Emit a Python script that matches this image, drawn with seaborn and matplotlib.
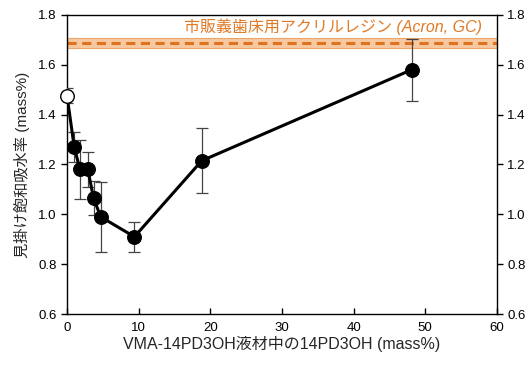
import matplotlib
matplotlib.use("Agg")
import matplotlib.pyplot as plt
import seaborn as sns
import pandas as pd

# 14PD3OH content in the liquid (mass%) and apparent saturated water absorption (mass%)
conc = [0.0, 1.0, 1.8, 2.9, 3.7, 4.7, 9.4, 18.8, 48.1]
absorption = [1.475, 1.27, 1.18, 1.18, 1.065, 0.99, 0.91, 1.215, 1.58]
err = [0.03, 0.06, 0.12, 0.07, 0.067, 0.14, 0.06, 0.13, 0.125]

# Commercial denture base acrylic resin reference
ref_mean = 1.687
ref_sd = 0.019
ref_label = "市販義歯床用アクリルレジン (Acron, GC)"

x_ticks = [0, 10, 20, 30, 40, 50, 60]
y_ticks = [0.6, 0.8, 1.0, 1.2, 1.4, 1.6, 1.8]

sns.set_theme(style="white")
plt.rcParams["font.family"] = ["Liberation Sans", "Noto Sans CJK JP", "DejaVu Sans"]
mixed = ["Liberation Sans", "Noto Sans CJK JP", "DejaVu Sans"]

df = pd.DataFrame({"conc": conc, "absorption": absorption, "err": err})

fig = plt.figure(figsize=(5.28, 3.73), dpi=100)
ax = fig.add_axes([0.127, 0.158, 0.814, 0.802])

# reference band and dashed mean line
ax.axhspan(ref_mean - ref_sd, ref_mean + ref_sd, color="#f7c9a2", lw=0.8,
           ec="#eba56a", zorder=1)
ax.axhline(ref_mean, color="#e2711d", lw=2.2, ls=(0, (3, 1.8)), zorder=2)
ax.text(37.1, 1.752, ref_label, color="#e07a26", fontsize=11.5, style="italic",
        ha="center", va="center", family=mixed)

# error bars
ax.errorbar(df["conc"], df["absorption"], yerr=df["err"], fmt="none",
            ecolor="#444444", elinewidth=0.9, capsize=4, capthick=0.9, zorder=3)

# connecting line
sns.lineplot(data=df, x="conc", y="absorption", ax=ax, color="black", lw=2.2,
             sort=False, zorder=4)

# data points: open circle for the unmodified liquid, filled for the rest
sns.scatterplot(data=df.iloc[1:], x="conc", y="absorption", ax=ax, color="black",
                s=95, edgecolor="black", linewidth=1, zorder=5)
sns.scatterplot(data=df.iloc[:1], x="conc", y="absorption", ax=ax, color="white",
                s=95, edgecolor="black", linewidth=1, zorder=6, clip_on=False)

ax.set_xlim(0, 60)
ax.set_ylim(0.6, 1.8)
ax.set_xticks(x_ticks)
ax.set_yticks(y_ticks)
ax.set_yticklabels([f"{v:.1f}" for v in y_ticks])

for s in ax.spines.values():
    s.set_visible(True)
    s.set_color("black")
    s.set_linewidth(1.0)

ax.tick_params(axis="x", direction="in", length=4, width=1, labelsize=9.5, colors="black",
               bottom=True, pad=6)
ax.tick_params(axis="y", direction="out", length=4, width=1, labelsize=9.5, colors="black",
               left=True, right=True, labelleft=True, labelright=True)

ax.set_xlabel("VMA-14PD3OH液材中の14PD3OH (mass%)", fontsize=11.5, labelpad=1,
              family=mixed)
ax.set_ylabel("見掛け飽和吸水率 (mass%)", fontsize=11, labelpad=6, family=mixed)

fig.savefig("out.png", dpi=100)
